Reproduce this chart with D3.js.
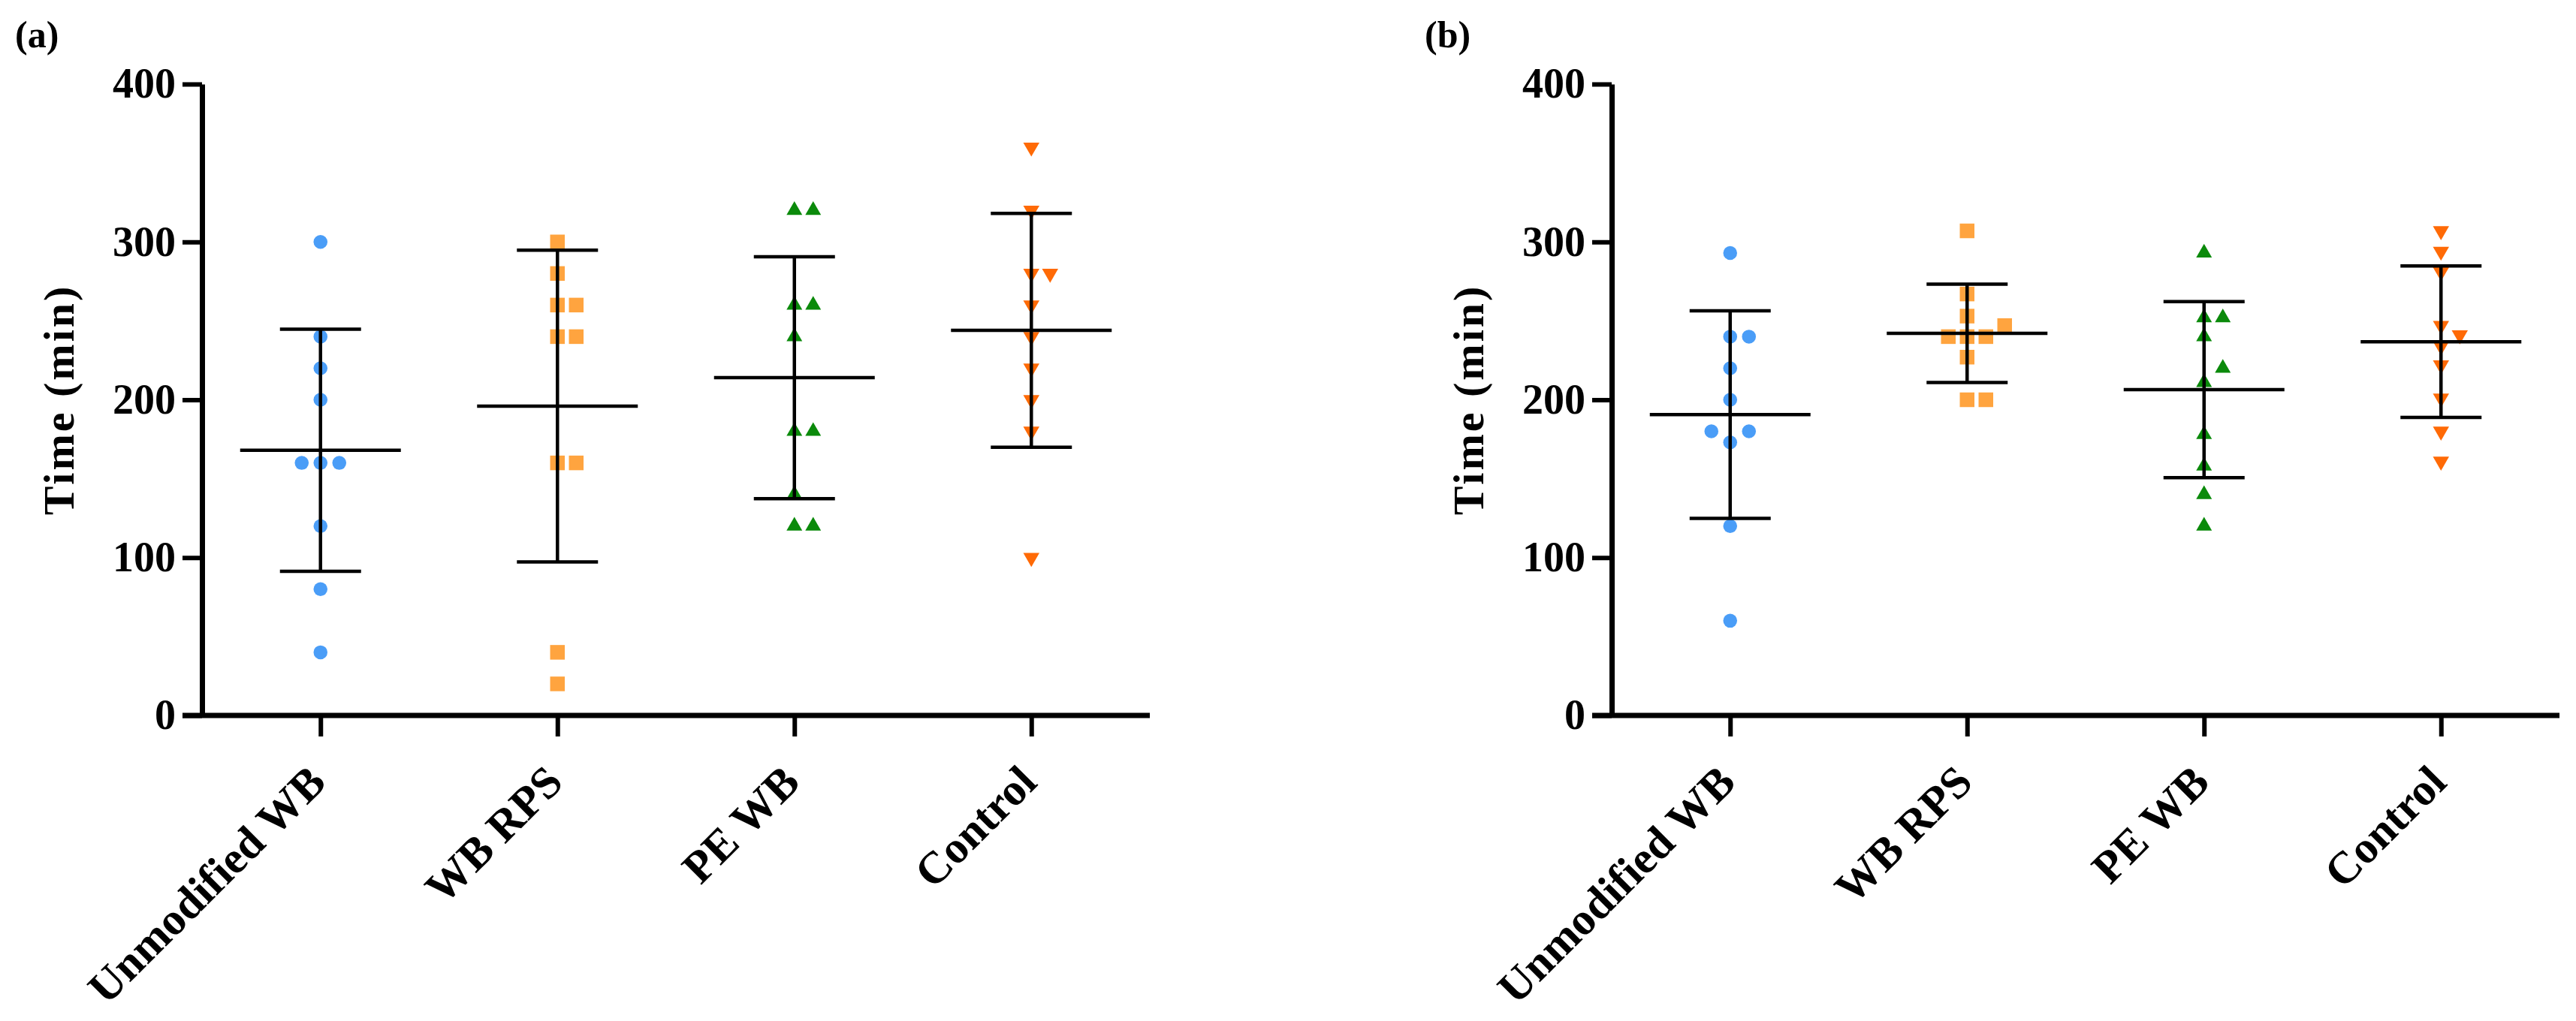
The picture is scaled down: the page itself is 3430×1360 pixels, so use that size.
<!DOCTYPE html>
<html>
<head>
<meta charset="utf-8">
<script src="https://cdn.jsdelivr.net/npm/d3@7"></script>
<style>
  body { margin: 0; background: #fff; }
  svg { display: block; }
  text { font-family: "Liberation Serif", "Times New Roman", serif; font-weight: bold; fill: #000; }
</style>
</head>
<body>
<svg id="chart" width="3430" height="1360"></svg>
<script>
// --- Data ---
const categories = ["Unmodified WB", "WB RPS", "PE WB", "Control"];
const yTicks = [0, 100, 200, 300, 400];
const panelLabels = ["(a)", "(b)"];
const yTitle = "Time (min)";

// panel (a), one array per group
const unmodifiedA = [300, 240, 220, 200, 160, 160, 160, 120, 80, 40];
const rpsA        = [300, 280, 260, 260, 240, 240, 160, 160, 40, 20];
const peA         = [320, 320, 260, 260, 240, 180, 180, 140, 120, 120];
const controlA    = [360, 320, 280, 280, 260, 240, 220, 200, 180, 100];

// panel (b)
const unmodifiedB = [293, 240, 240, 220, 200, 173, 180, 180, 120, 60];
const rpsB        = [307, 267, 253, 240, 240, 240, 247, 227, 200, 200];
const peB         = [293, 252, 252, 240, 211, 220, 178, 158, 140, 120];
const controlB    = [307, 294, 281, 247, 241, 234, 222, 201, 180, 161];

const panels = [
  [unmodifiedA, rpsA, peA, controlA],
  [unmodifiedB, rpsB, peB, controlB]
];

const colors = ["#4a9df7", "#ffa43f", "#0b8a0b", "#ff6a06"];
const shapes = [
  { type: d3.symbolCircle, size: 270, rot: 0 },
  { type: d3.symbolSquare, size: 380, rot: 0 },
  { type: d3.symbolTriangle, size: 190, rot: 0 },
  { type: d3.symbolTriangle, size: 200, rot: 180 }
];

// --- Layout ---
const svg = d3.select("#chart");
const axisLefts = [269, 2146];
const plotW = 1262;
const yTop = 112, yBottom = 953;
const slotStep = 25;      // horizontal spacing of overlapping dots
const overlapPx = 22;     // dots closer than this in y get pushed sideways

const y = d3.scaleLinear().domain([0, 400]).range([yBottom, yTop]);

// place dots in slots 0, +1, -1, +2, -2 ... so they do not overlap
function spread(values) {
  const placed = [];
  const order = [0, 1, -1, 2, -2, 3, -3];
  return values.map(v => {
    const py = y(v);
    const slot = order.find(s => !placed.some(p => p.slot === s && Math.abs(p.py - py) < overlapPx));
    placed.push({ slot, py });
    return { value: v, slot };
  });
}

panels.forEach((groups, pi) => {
  const left = axisLefts[pi];
  const x = d3.scalePoint().domain(categories).range([left, left + plotW]).padding(0.5);
  const g = svg.append("g");

  // panel letter
  g.append("text")
    .attr("x", left - 249)
    .attr("y", 63)
    .attr("font-size", 50)
    .text(panelLabels[pi]);

  // y title
  g.append("text")
    .attr("transform", `translate(${left - 171},${(yTop + yBottom) / 2}) rotate(-90)`)
    .attr("text-anchor", "middle")
    .attr("font-size", 58)
    .attr("letter-spacing", 3)
    .text(yTitle);

  // dots
  groups.forEach((vals, ci) => {
    const cx = x(categories[ci]);
    const sh = shapes[ci];
    g.append("g")
      .selectAll("path")
      .data(spread(vals))
      .join("path")
      .attr("d", d3.symbol().type(sh.type).size(sh.size))
      .attr("transform", d => `translate(${cx + d.slot * slotStep},${y(d.value)}) rotate(${sh.rot})`)
      .attr("fill", colors[ci]);
  });

  // mean and SD bars
  groups.forEach((vals, ci) => {
    const cx = x(categories[ci]);
    const m = d3.mean(vals), sd = d3.deviation(vals);
    const bars = g.append("g").attr("stroke", "#000").attr("stroke-width", 4.5);
    bars.append("line")
      .attr("x1", cx).attr("x2", cx)
      .attr("y1", y(m - sd)).attr("y2", y(m + sd));
    [m - sd, m + sd].forEach(v => {
      bars.append("line")
        .attr("x1", cx - 54).attr("x2", cx + 54)
        .attr("y1", y(v)).attr("y2", y(v));
    });
    bars.append("line")
      .attr("x1", cx - 107).attr("x2", cx + 107)
      .attr("y1", y(m)).attr("y2", y(m));
  });

  // y axis
  const yAxis = g.append("g")
    .attr("transform", `translate(${left},0)`)
    .call(d3.axisLeft(y).tickValues(yTicks).tickSize(26).tickSizeOuter(0).tickPadding(9));
  yAxis.select(".domain").attr("stroke", "#000").attr("stroke-width", 7);
  yAxis.selectAll(".tick line").attr("stroke", "#000").attr("stroke-width", 6);
  yAxis.selectAll(".tick text")
    .attr("font-family", null)
    .attr("font-size", 56);

  // x axis
  const xAxis = g.append("g")
    .attr("transform", `translate(0,${yBottom})`)
    .call(d3.axisBottom(x).tickSize(28).tickSizeOuter(0).tickFormat(""));
  xAxis.select(".domain").attr("stroke", "#000").attr("stroke-width", 7)
    .attr("d", `M${left - 26},0H${left + plotW}`);
  xAxis.selectAll(".tick line").attr("stroke", "#000").attr("stroke-width", 6);

  // rotated category labels
  g.append("g")
    .selectAll("text")
    .data(categories)
    .join("text")
    .attr("transform", d => `translate(${x(d) + 10},${yBottom + 92}) rotate(-45)`)
    .attr("text-anchor", "end")
    .attr("font-size", 60)
    .text(d => d);
});
</script>
</body>
</html>
